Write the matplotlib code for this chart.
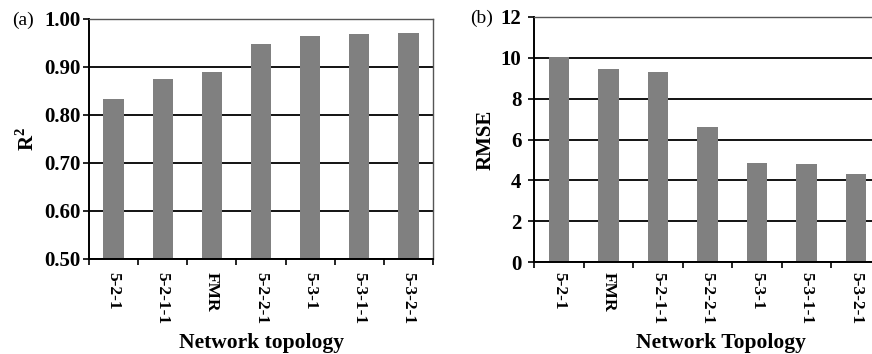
import matplotlib
matplotlib.use("Agg")
import matplotlib.pyplot as plt
import numpy as np

# Data
cats_a = ["5-2-1", "5-2-1-1", "FMR", "5-2-2-1", "5-3-1", "5-3-1-1", "5-3-2-1"]
r2_vals = [0.833, 0.876, 0.889, 0.948, 0.965, 0.968, 0.971]
cats_b = ["5-2-1", "FMR", "5-2-1-1", "5-2-2-1", "5-3-1", "5-3-1-1", "5-3-2-1"]
rmse_vals = [10.04, 9.45, 9.32, 6.61, 4.87, 4.82, 4.33]
yticks_a = [0.50, 0.60, 0.70, 0.80, 0.90, 1.00]
yticks_b = [0, 2, 4, 6, 8, 10, 12]

plt.rcParams['font.family'] = ['Liberation Serif', 'DejaVu Serif']
plt.rcParams['mathtext.fontset'] = 'custom'
plt.rcParams['mathtext.rm'] = 'Liberation Serif:bold'
plt.rcParams['mathtext.bf'] = 'Liberation Serif:bold'

W, H = 872, 354
fig = plt.figure(figsize=(W / 100, H / 100), dpi=100)

def px_axes(left, top, right, bottom):
    return fig.add_axes([left / W, (H - bottom) / H, (right - left) / W, (bottom - top) / H])

bar_color = "#808080"

def style(ax, cats, vals, yticks, ylim, fmt, xpad, ypad):
    x = np.arange(len(cats))
    ax.bar(x, vals, width=0.41, color=bar_color, zorder=2)
    ax.set_xlim(-0.5, len(cats) - 0.5)
    ax.set_ylim(*ylim)
    ax.set_yticks(yticks)
    ax.set_yticklabels([fmt(v) for v in yticks], fontsize=15, fontweight='bold')
    ax.set_xticks(x)
    ax.set_xticklabels(cats, rotation=-90, fontsize=12.5, fontweight='bold')
    ax.tick_params(axis='x', which='major', length=0, pad=xpad)
    ax.set_xticks(np.arange(-0.5, len(cats) + 0.5, 1), minor=True)
    ax.tick_params(axis='x', which='minor', length=4, width=1.2, direction='out')
    ax.tick_params(axis='y', length=4, width=1.2, direction='out', pad=ypad)
    ax.set_axisbelow(True)
    ax.yaxis.grid(True, color='black', linewidth=1.3, zorder=0)
    for s in ['left', 'bottom']:
        ax.spines[s].set_color('black')
        ax.spines[s].set_linewidth(1.4)
    for s in ['top', 'right']:
        ax.spines[s].set_color('#555555')
        ax.spines[s].set_linewidth(1.0)

# Panel (a)
ax1 = px_axes(89, 19, 433, 259)
style(ax1, cats_a, r2_vals, yticks_a, (0.5, 1.0), lambda v: f"{v:.2f}", 9, 2)
ax1.set_ylabel(r"R$^{\mathbf{2}}$", fontsize=15, fontweight='bold')
ax1.yaxis.set_label_coords(-0.145, 0.5)
ax1.set_xlabel("Network topology", fontsize=15.5, fontweight='bold')
ax1.xaxis.set_label_coords(0.5, -0.31)
fig.text(12 / W, (H - 25) / H, "(a)", fontsize=14)

# Panel (b)
ax2 = px_axes(534, 17, 881, 262)
style(ax2, cats_b, rmse_vals, yticks_b, (0, 12), lambda v: f"{v:d}", 7, 5)
ax2.set_ylabel("RMSE", fontsize=15, fontweight='bold')
ax2.yaxis.set_label_coords(-0.11, 0.5)
ax2.set_xlabel("Network Topology", fontsize=15.5, fontweight='bold')
ax2.xaxis.set_label_coords(0.54, -0.29)
fig.text(470 / W, (H - 23) / H, "(b)", fontsize=14)

fig.savefig("out.png", dpi=100)
